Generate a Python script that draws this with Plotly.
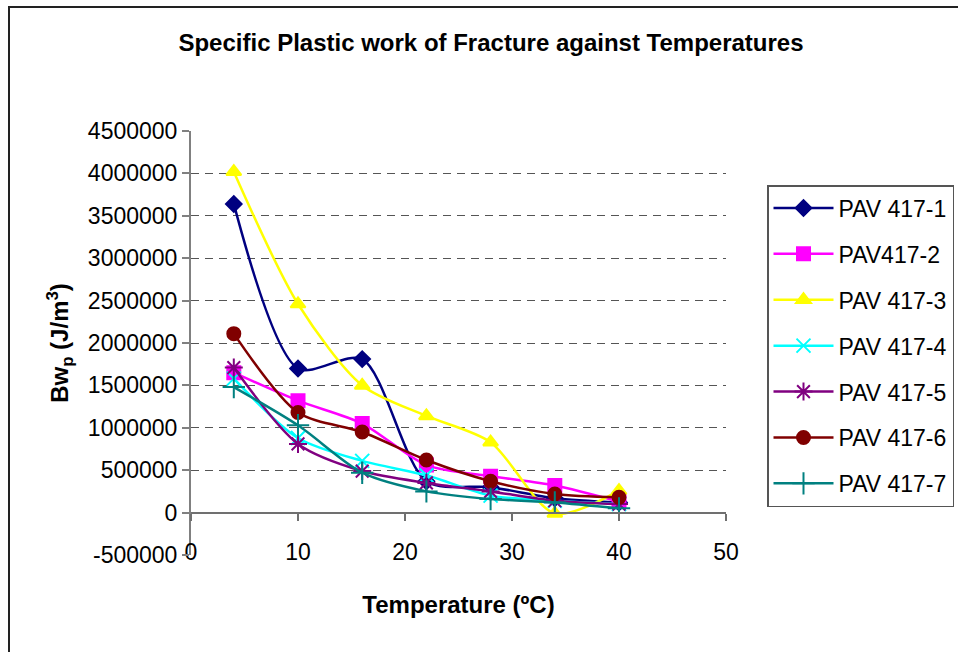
import plotly.graph_objects as go

temps = [4, 10, 16, 22, 28, 34, 40]

series_names = ["PAV 417-1", "PAV417-2", "PAV 417-3", "PAV 417-4", "PAV 417-5", "PAV 417-6", "PAV 417-7"]
pav1 = [3640000, 1700000, 1810000, 370000, 300000, 170000, 120000]
pav2 = [1650000, 1320000, 1050000, 560000, 430000, 320000, 130000]
pav3 = [4020000, 2460000, 1500000, 1140000, 830000, -10000, 260000]
pav4 = [1580000, 880000, 610000, 440000, 200000, 140000, 100000]
pav5 = [1710000, 810000, 490000, 350000, 250000, 140000, 100000]
pav6 = [2110000, 1180000, 950000, 620000, 370000, 220000, 180000]
pav7 = [1480000, 1030000, 470000, 250000, 160000, 120000, 50000]

x_ticks = [0, 10, 20, 30, 40, 50]
y_ticks = [-500000, 0, 500000, 1000000, 1500000, 2000000, 2500000, 3000000, 3500000, 4000000, 4500000]
y_tick_labels = [str(v) for v in y_ticks]

values = [pav1, pav2, pav3, pav4, pav5, pav6, pav7]
colors = ["#000080", "#FF00FF", "#FFFF00", "#00FFFF", "#800080", "#800000", "#008080"]
symbols = ["diamond", "square", "triangle-up", "x-thin-open", "asterisk-open", "circle", "cross-thin-open"]
sizes = [12, 13, 13, 14, 15, 13, 16]

FONT = "Liberation Sans, Arial, sans-serif"

# plot-area pixel geometry
W, H = 958, 652
L, R, T, B = 191, 726, 131, 555
pw, ph = R - L, B - T


def px_x(p):
    return (p - L) / pw


def px_y(p):
    return (B - p) / ph


fig = go.Figure()
for name, vals, c, s, sz in zip(series_names, values, colors, symbols, sizes):
    fig.add_trace(go.Scatter(
        x=temps, y=vals, name=name, mode="lines+markers",
        line=dict(color=c, width=2.5, shape="spline", smoothing=0.8),
        marker=dict(symbol=s, size=sz, color=c, line=dict(color=c, width=2)),
        legendgroup=name,
        xaxis="x2",
    ))

# dummy trace so the labels axis is drawn
fig.add_trace(go.Scatter(x=x_ticks, y=[None] * len(x_ticks), xaxis="x", showlegend=False,
                         hoverinfo="skip", mode="lines"))

fig.update_layout(
    width=W, height=H,
    margin=dict(l=L, r=W - R, t=T, b=H - B, autoexpand=False),
    paper_bgcolor="white", plot_bgcolor="white",
    font=dict(family=FONT, size=23, color="black"),
    title=dict(text="<b>Specific Plastic work of Fracture against Temperatures</b>",
               x=px_x(491), xref="paper", xanchor="center",
               y=1 - 43 / H, yref="container", yanchor="middle",
               font=dict(family=FONT, size=24, color="black")),
    showlegend=True,
    legend=dict(x=px_x(767), y=px_y(185), xanchor="left", yanchor="top",
                bordercolor="#555555", borderwidth=1.5, bgcolor="white",
                font=dict(family=FONT, size=23, color="black"),
                tracegroupgap=13, itemwidth=60),
    xaxis=dict(range=[0, 50], tickvals=x_ticks, anchor="free", position=px_y(536),
               showline=False, ticks="", showgrid=False, zeroline=False,
               tickfont=dict(family=FONT, size=23),
               title=dict(text="<b>Temperature (ºC)</b>", standoff=32,
                          font=dict(family=FONT, size=24))),
    xaxis2=dict(range=[0, 50], tickvals=x_ticks, overlaying="x", anchor="free",
                position=px_y(512.5), side="bottom",
                showline=True, linecolor="#707070", linewidth=2,
                ticks="outside", ticklen=7, tickwidth=2, tickcolor="#707070",
                showticklabels=False, showgrid=False, zeroline=False),
    yaxis=dict(range=[-500000, 4500000], tickvals=y_ticks, ticktext=y_tick_labels,
               showline=True, linecolor="#808080", linewidth=2,
               ticks="outside", ticklen=7, tickwidth=2, tickcolor="#808080",
               showgrid=True, gridcolor="#555555", gridwidth=1, griddash="8px,6px",
               zeroline=False, tickfont=dict(family=FONT, size=23),
               title=dict(text="<b>Bw<sub>p</sub> (J/m<sup>3</sup>)</b>", standoff=12,
                          font=dict(family=FONT, size=24))),
    shapes=[dict(type="rect", xref="paper", yref="paper",
                 x0=px_x(9), x1=px_x(975), y0=px_y(665), y1=px_y(7),
                 line=dict(color="#222222", width=2), fillcolor="rgba(0,0,0,0)", layer="below")],
)

fig.write_html("out.html")
